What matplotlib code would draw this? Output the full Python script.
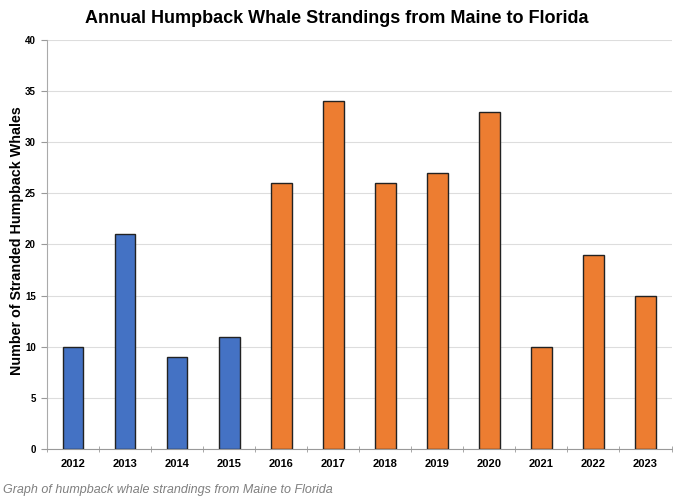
import matplotlib
matplotlib.use("Agg")
import matplotlib.pyplot as plt
import numpy as np

plt.rcParams['font.family'] = ['Liberation Sans', 'DejaVu Sans']

years = ["2012", "2013", "2014", "2015", "2016", "2017", "2018", "2019", "2020", "2021", "2022", "2023"]
strandings = [10, 21, 9, 11, 26, 34, 26, 27, 33, 10, 19, 15]
colors = ["#4472C4"] * 4 + ["#ED7D31"] * 8
yticks = [0, 5, 10, 15, 20, 25, 30, 35, 40]

fig = plt.figure(figsize=(6.73, 4.98), dpi=100)
ax = fig.add_axes([0.0698, 0.0984, 0.928, 0.8213])

x = np.arange(len(years))
ax.bar(x, strandings, width=0.4, color=colors, edgecolor="#222222", linewidth=1.0, zorder=3)

ax.set_xlim(-0.5, len(years) - 0.5)
ax.set_ylim(0, 40)
ax.set_yticks(yticks)
ax.set_yticklabels([str(t) for t in yticks], fontsize=7, fontweight='bold')
ax.set_xticks(x)
ax.set_xticklabels(years, fontsize=8, fontweight='bold')
ax.tick_params(axis='x', length=0, pad=7)
ax.set_xticks(np.arange(-0.5, len(years), 1.0), minor=True)
ax.tick_params(axis='x', which='minor', length=5, color='#999999', direction='inout')
ax.tick_params(axis='y', length=4, color='#999999', pad=4)

ax.yaxis.grid(True, color='#dddddd', linewidth=0.8, zorder=0)
ax.set_axisbelow(True)
for s in ['top', 'right']:
    ax.spines[s].set_visible(False)
ax.spines['left'].set_color('#aaaaaa')
ax.spines['bottom'].set_color('#999999')

ax.set_ylabel("Number of Stranded Humpback Whales", fontsize=10.3, fontweight='bold')
ax.yaxis.set_label_coords(-0.037, 0.51)
fig.text(0.5, 0.962, "Annual Humpback Whale Strandings from Maine to Florida",
         ha='center', va='center', fontsize=13, fontweight='bold')
fig.text(0.004, 0.016, "Graph of humpback whale strandings from Maine to Florida",
         ha='left', va='center', fontsize=9, style='italic', color='#7f7f7f')

fig.savefig("out.png", dpi=100)
